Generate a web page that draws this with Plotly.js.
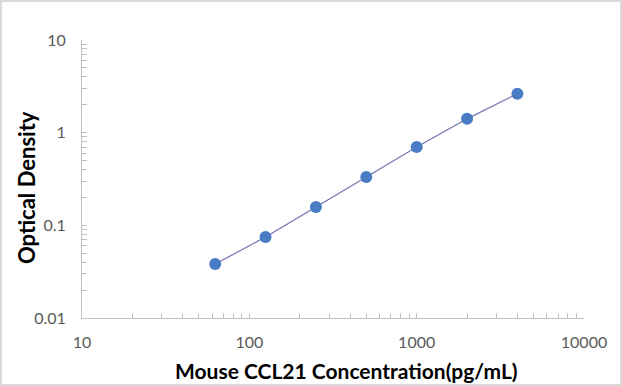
<!DOCTYPE html>
<html><head><meta charset="utf-8">
<script src="https://cdn.plot.ly/plotly-3.0.1.min.js"></script>
<style>
html,body{margin:0;padding:0;background:#fff;}
#chart{width:618px;height:382px;border:2px solid #D9D9D9;}
</style></head>
<body><div id="chart"></div>
<script>
const concentration = [62.5, 125, 250, 500, 1000, 2000, 4000];
const opticalDensity = [0.0382, 0.0747, 0.158, 0.333, 0.702, 1.41, 2.63];
const xTickVals = [10, 100, 1000, 10000];
const xTickText = ['10', '100', '1000', '10000'];
const yTickVals = [0.01, 0.1, 1, 10];
const yTickText = ['0.01', '0.1', '1', '10'];
const xTitle = 'Mouse CCL21 Concentration(pg/mL)';
const yTitle = 'Optical Density';

const axisCommon = {
  type: 'log', showgrid: false, zeroline: false,
  showline: true, linecolor: '#BFBFBF', linewidth: 1,
  ticks: 'inside', ticklen: 5, tickcolor: '#BFBFBF', tickwidth: 1,
  tickfont: {family: 'Lato, "Open Sans", sans-serif', size: 16, color: '#595959'},
  minor: {ticks: 'inside', ticklen: 5, tickcolor: '#BFBFBF', dtick: 'D1', showgrid: false},
  tickmode: 'array'
};

const trace = {
  x: concentration, y: opticalDensity, type: 'scatter', mode: 'lines+markers',
  line: {color: '#7272B4', width: 1.2},
  marker: {color: '#4A7CC4', size: 12},
  hoverinfo: 'none'
};

const layout = {
  width: 618, height: 382,
  margin: {l: 80, r: 36, t: 38, b: 66},
  paper_bgcolor: '#ffffff', plot_bgcolor: '#ffffff',
  showlegend: false,
  xaxis: Object.assign({}, axisCommon, {
    range: [1, 4], tickvals: xTickVals, ticktext: xTickText, ticklabelstandoff: 10
  }),
  yaxis: Object.assign({}, axisCommon, {
    range: [-2, 1], tickvals: yTickVals, ticktext: yTickText, ticklabelstandoff: 12
  }),
  annotations: [
    {text: xTitle, xref: 'paper', yref: 'paper', x: (344 - 80) / 502, y: -(368 - 38 - 278) / 278,
     xanchor: 'center', yanchor: 'middle', showarrow: false,
     font: {family: 'Lato, "Open Sans", sans-serif', size: 21, color: '#000', weight: 'bold'}},
    {text: yTitle, xref: 'paper', yref: 'paper', x: -(80 - 24) / 502, y: 1 - (186 - 38) / 278, textangle: -90,
     xanchor: 'center', yanchor: 'middle', showarrow: false,
     font: {family: 'Lato, "Open Sans", sans-serif', size: 22, color: '#000', weight: 'bold'}}
  ]
};

Plotly.newPlot('chart', [trace], layout, {displayModeBar: false, staticPlot: true});
</script></body></html>
